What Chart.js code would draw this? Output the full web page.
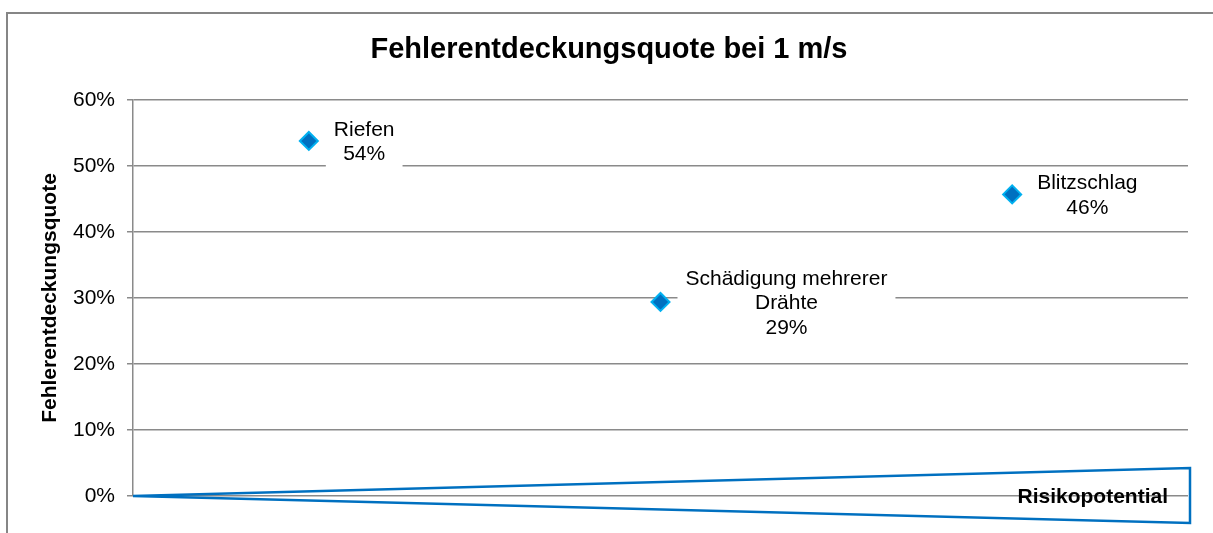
<!DOCTYPE html>
<html>
<head>
<meta charset="utf-8">
<script src="https://cdn.jsdelivr.net/npm/chart.js@4/dist/chart.umd.min.js"></script>
<style>
  html, body { margin: 0; padding: 0; background: #ffffff; }
  #wrap { width: 1213px; height: 533px; }
</style>
</head>
<body>
<div id="wrap"><canvas id="c" width="1213" height="533"></canvas></div>
<script>
// ---- data ----
const categories = ['Riefen', 'Schädigung mehrerer Drähte', 'Blitzschlag'];
const quote = [0.538, 0.294, 0.457];
const yTickLabels = ['0%', '10%', '20%', '30%', '40%', '50%', '60%'];
const chartTitle = 'Fehlerentdeckungsquote bei 1 m/s';
const yAxisTitle = 'Fehlerentdeckungsquote';
const arrowLabel = 'Risikopotential';

const FONT = "'Liberation Sans', Arial, Helvetica, sans-serif";

function wrapText(ctx, text, maxW) {
  const words = text.split(' ');
  const lines = [];
  let cur = '';
  for (const w of words) {
    const t = cur ? cur + ' ' + w : w;
    if (ctx.measureText(t).width > maxW && cur) { lines.push(cur); cur = w; }
    else cur = t;
  }
  if (cur) lines.push(cur);
  return lines;
}

const framePlugin = {
  id: 'frame',
  beforeDraw(chart) {
    const ctx = chart.ctx;
    ctx.save();
    ctx.fillStyle = '#ffffff';
    ctx.fillRect(0, 0, chart.width, chart.height);
    ctx.strokeStyle = '#868686';
    ctx.lineWidth = 2;
    ctx.strokeRect(7, 13, chart.width + 50, chart.height + 50);
    ctx.restore();
  }
};

const labelPlugin = {
  id: 'pointLabels',
  afterDatasetsDraw(chart) {
    const ctx = chart.ctx;
    const meta = chart.getDatasetMeta(0);
    ctx.save();
    ctx.font = '21px ' + FONT;
    ctx.textAlign = 'center';
    ctx.textBaseline = 'middle';
    const lh = 24.5;
    meta.data.forEach((pt, i) => {
      const lines = wrapText(ctx, categories[i], 215);
      lines.push(Math.round(quote[i] * 100) + '%');
      const w = Math.max(...lines.map(l => ctx.measureText(l).width));
      const boxW = w + 16;
      const boxH = lines.length * lh + 6;
      const left = pt.x + 17;
      const cy = pt.y + 1.5;
      const top = cy - boxH / 2;
      ctx.fillStyle = '#ffffff';
      ctx.fillRect(left, top, boxW, boxH);
      ctx.fillStyle = '#000000';
      const startY = cy - (lines.length - 1) * lh / 2;
      lines.forEach((l, k) => ctx.fillText(l, left + boxW / 2, startY + k * lh));
    });
    ctx.restore();
  }
};

const arrowPlugin = {
  id: 'riskArrow',
  afterDraw(chart) {
    const ctx = chart.ctx;
    const a = chart.chartArea;
    ctx.save();
    ctx.strokeStyle = '#0070C0';
    ctx.lineWidth = 2.5;
    ctx.lineJoin = 'miter';
    ctx.beginPath();
    ctx.moveTo(a.left, a.bottom);
    ctx.lineTo(a.right + 2, a.bottom - 28);
    ctx.lineTo(a.right + 2, a.bottom + 27);
    ctx.closePath();
    ctx.stroke();
    ctx.fillStyle = '#000000';
    ctx.font = 'bold 21px ' + FONT;
    ctx.textAlign = 'right';
    ctx.textBaseline = 'middle';
    ctx.fillText(arrowLabel, a.right - 20, a.bottom + 1);
    ctx.restore();
  }
};

new Chart(document.getElementById('c'), {
  type: 'line',
  data: {
    labels: categories,
    datasets: [{
      data: quote,
      showLine: false,
      pointStyle: 'rectRot',
      pointRadius: 9,
      pointHoverRadius: 9,
      pointBackgroundColor: '#0070C0',
      pointBorderColor: '#00B0F0',
      pointBorderWidth: 2
    }]
  },
  options: {
    responsive: false,
    animation: false,
    devicePixelRatio: 1,
    layout: { padding: { left: 30, right: 25, top: 0, bottom: 37 } },
    plugins: {
      legend: { display: false },
      tooltip: { enabled: false },
      title: {
        display: true,
        text: chartTitle,
        color: '#000000',
        font: { family: FONT, size: 29, weight: 'bold', lineHeight: 1.2 },
        padding: { top: 32.6, bottom: 32.6 }
      }
    },
    scales: {
      x: {
        type: 'category',
        display: false,
        offset: true
      },
      y: {
        min: 0,
        max: 0.6,
        afterFit(scale) { scale.width = 103; },
        ticks: {
          stepSize: 0.1,
          padding: 12,
          color: '#000000',
          font: { family: FONT, size: 21 },
          callback: (v) => yTickLabels[Math.round(v * 10)]
        },
        grid: {
          color: '#8a8a8a',
          lineWidth: 1.5,
          tickLength: 6,
          drawTicks: true
        },
        border: { display: true, color: '#8a8a8a', width: 1.5 },
        title: {
          display: true,
          text: yAxisTitle,
          color: '#000000',
          font: { family: FONT, size: 21, weight: 'bold', lineHeight: 1.2 },
          padding: { top: 8, bottom: 0 }
        }
      }
    }
  },
  plugins: [framePlugin, labelPlugin, arrowPlugin]
});
</script>
</body>
</html>
